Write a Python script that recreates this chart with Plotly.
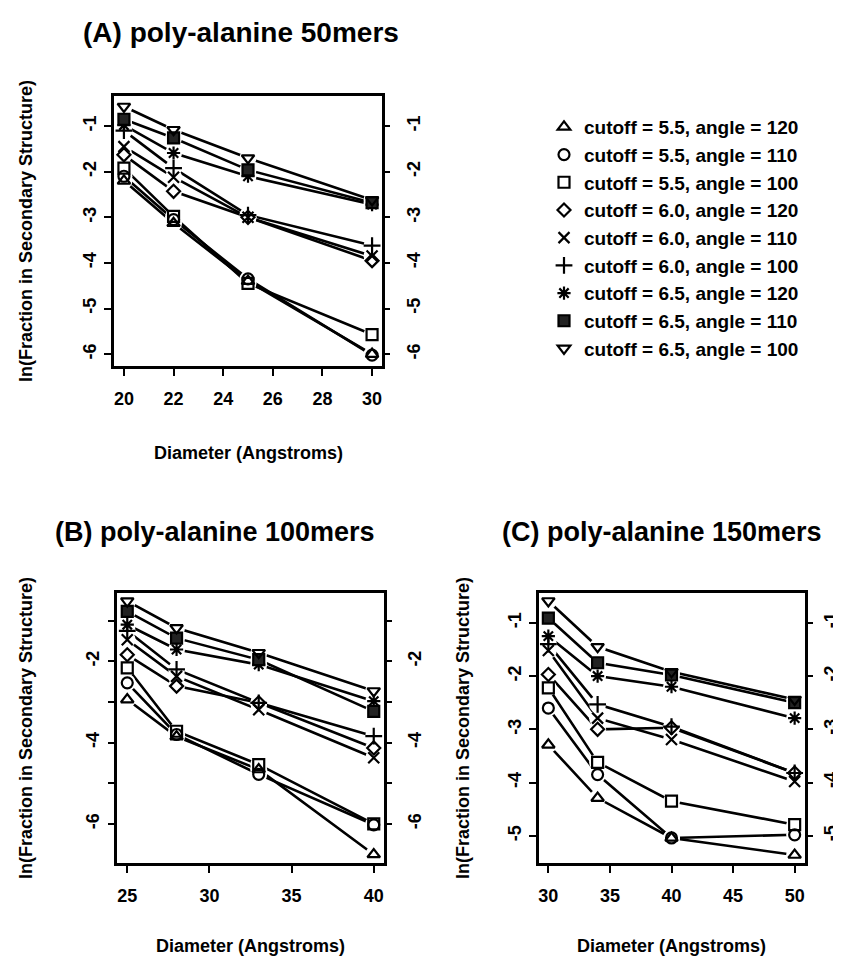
import plotly.graph_objects as go

# ---------------- data ----------------
series_names = [
    "cutoff = 5.5, angle = 120",
    "cutoff = 5.5, angle = 110",
    "cutoff = 5.5, angle = 100",
    "cutoff = 6.0, angle = 120",
    "cutoff = 6.0, angle = 110",
    "cutoff = 6.0, angle = 100",
    "cutoff = 6.5, angle = 120",
    "cutoff = 6.5, angle = 110",
    "cutoff = 6.5, angle = 100",
]

diam_a = [20, 22, 25, 30]
vals_a = [
    [-2.20, -3.13, -4.40, -6.00],
    [-2.10, -3.05, -4.35, -6.02],
    [-1.92, -2.98, -4.45, -5.57],
    [-1.63, -2.43, -3.00, -3.95],
    [-1.45, -2.12, -3.00, -3.85],
    [-1.10, -1.92, -2.95, -3.62],
    [-0.98, -1.59, -2.10, -2.72],
    [-0.85, -1.26, -1.96, -2.68],
    [-0.57, -1.08, -1.70, -2.62],
]

diam_b = [25, 28, 33, 40]
vals_b = [
    [-2.94, -3.85, -4.66, -6.75],
    [-2.53, -3.80, -4.78, -6.02],
    [-2.16, -3.72, -4.54, -6.00],
    [-1.84, -2.61, -3.02, -4.13],
    [-1.47, -2.37, -3.19, -4.37],
    [-1.25, -2.20, -3.02, -3.84],
    [-1.10, -1.71, -2.08, -2.98],
    [-0.77, -1.43, -1.96, -3.23],
    [-0.52, -1.18, -1.79, -2.73],
]

diam_c = [30, 34, 40, 50]
vals_c = [
    [-3.29, -4.29, -5.04, -5.36],
    [-2.60, -3.85, -5.04, -4.98],
    [-2.22, -3.62, -4.35, -4.79],
    [-1.97, -3.00, -2.97, -3.82],
    [-1.52, -2.79, -3.19, -3.98],
    [-1.40, -2.53, -2.95, -3.82],
    [-1.25, -2.00, -2.20, -2.79],
    [-0.91, -1.75, -1.98, -2.50],
    [-0.59, -1.45, -1.92, -2.44],
]

panel_titles = ["(A) poly-alanine 50mers", "(B) poly-alanine 100mers", "(C) poly-alanine 150mers"]
x_title = "Diameter (Angstroms)"
y_title = "ln(Fraction in Secondary Structure)"

xticks_a = [20, 22, 24, 26, 28, 30]
xticks_b = [25, 30, 35, 40]
xticks_c = [30, 35, 40, 45, 50]
yticks_a = [-1, -2, -3, -4, -5, -6]
yticks_b = [-1, -2, -3, -4, -5, -6]
ylabels_b = ["", "-2", "", "-4", "", "-6"]
yticks_c = [-1, -2, -3, -4, -5]

# ---------------- styles ----------------
symbols = ["triangle-up-open", "circle-open", "square-open", "diamond-open",
           "x-thin-open", "cross-thin-open", "asterisk-open", "square", "triangle-down-open"]
sizes = [11, 11, 11, 10, 11, 12, 11, 11, 11]

W, H = 841, 958
FONT = "Liberation Sans, Arial, Helvetica, sans-serif"

def px(x):
    return x / W

def py(y):
    return 1 - y / H

fig = go.Figure()

panels = [
    dict(x=diam_a, vals=vals_a, xa="x", ya="y", yr="y4"),
    dict(x=diam_b, vals=vals_b, xa="x2", ya="y2", yr="y5"),
    dict(x=diam_c, vals=vals_c, xa="x3", ya="y3", yr="y6"),
]

for pi, p in enumerate(panels):
    for si, v in enumerate(p["vals"]):
        fig.add_trace(go.Scatter(x=p["x"], y=v, mode="lines", xaxis=p["xa"], yaxis=p["ya"],
                                 line=dict(color="black", width=2.6), showlegend=False,
                                 hoverinfo="skip"))
    # white halos (gaps around points like R type="b")
    for si, v in enumerate(p["vals"]):
        fig.add_trace(go.Scatter(x=p["x"], y=v, mode="markers", xaxis=p["xa"], yaxis=p["ya"],
                                 marker=dict(symbol="circle", size=17, color="white",
                                             line=dict(width=0)),
                                 showlegend=False, hoverinfo="skip"))
    for si, v in enumerate(p["vals"]):
        filled = symbols[si] == "square"
        fig.add_trace(go.Scatter(
            x=p["x"], y=v, mode="markers", xaxis=p["xa"], yaxis=p["ya"],
            name=series_names[si], legendgroup=series_names[si],
            showlegend=(pi == 0),
            marker=dict(symbol=symbols[si], size=sizes[si],
                        color="#222" if filled else "black",
                        line=dict(color="black", width=2.2)),
        ))
    fig.add_trace(go.Scatter(x=[], y=[], xaxis=p["xa"], yaxis=p["yr"], showlegend=False))

tickfont = dict(family=FONT, size=18, color="black", weight="bold")

def xax(domain, rng, ticks, anchor):
    return dict(domain=domain, range=rng, tickvals=ticks, ticktext=[str(t) for t in ticks],
                anchor=anchor, showline=True, mirror=True, linecolor="black", linewidth=2.5,
                ticks="outside", ticklen=7, tickwidth=2.2, tickcolor="black",
                showgrid=False, zeroline=False, tickfont=tickfont, ticklabelstandoff=8)

def yax(domain, rng, ticks, labels, anchor):
    return dict(domain=domain, range=rng, tickvals=ticks, ticktext=labels,
                anchor=anchor, showline=True, mirror=True, linecolor="black", linewidth=2.5,
                ticks="outside", ticklen=7, tickwidth=2.2, tickcolor="black",
                showgrid=False, zeroline=False, tickfont=tickfont, tickangle=-90,
                ticklabelstandoff=1)

def yax_r(rng, ticks, labels, anchor, overlay, standoff):
    return dict(range=rng, tickvals=ticks, ticktext=labels, anchor=anchor, overlaying=overlay,
                side="right", showline=False, ticks="outside", ticklen=7, tickwidth=2.2,
                tickcolor="black", showgrid=False, zeroline=False, tickfont=tickfont,
                tickangle=-90, ticklabelstandoff=standoff)

dom_a_x = [px(106), px(374)]
dom_a_y = [py(358), py(88)]
dom_b_x = [px(109.4), px(375.6)]
dom_c_x = [px(530.5), px(796.5)]
dom_bc_y = [py(855), py(585)]

rng_a_x = [19.6, 30.4]
rng_a_y = [-6.26, -0.34]
rng_b_x = [24.4, 40.6]
rng_b_y = [-6.96, -0.32]
rng_c_x = [29.2, 50.8]
rng_c_y = [-5.51, -0.44]

fig.update_layout(
    width=W, height=H, margin=dict(l=0, r=0, t=0, b=0),
    paper_bgcolor="white", plot_bgcolor="white",
    font=dict(family=FONT, color="black"),
    xaxis=xax(dom_a_x, rng_a_x, xticks_a, "y"),
    yaxis=yax(dom_a_y, rng_a_y, yticks_a, [str(t) for t in yticks_a], "x"),
    xaxis2=xax(dom_b_x, rng_b_x, xticks_b, "y2"),
    yaxis2=yax(dom_bc_y, rng_b_y, yticks_b, ylabels_b, "x2"),
    xaxis3=xax(dom_c_x, rng_c_x, xticks_c, "y3"),
    yaxis3=yax(dom_bc_y, rng_c_y, yticks_c, [str(t) for t in yticks_c], "x3"),
    yaxis4=yax_r(rng_a_y, yticks_a, [str(t) for t in yticks_a], "x", "y", 8),
    yaxis5=yax_r(rng_b_y, yticks_b, ylabels_b, "x2", "y2", 8),
    yaxis6=yax_r(rng_c_y, yticks_c, [str(t) for t in yticks_c], "x3", "y3", 3),
    legend=dict(x=px(536), y=py(100), xanchor="left", yanchor="top",
                font=dict(family=FONT, size=19, color="black", weight="bold"),
                bgcolor="rgba(0,0,0,0)", borderwidth=0, tracegroupgap=0,
                itemsizing="trace"),
)

lab_font = dict(family=FONT, size=18, color="black", weight="bold")

ann = []
# panel titles
ann.append(dict(text=panel_titles[0], x=px(233), y=py(24), xref="paper", yref="paper",
                xanchor="center", yanchor="middle", showarrow=False,
                font=dict(family=FONT, size=28, color="black", weight="bold")))
ann.append(dict(text=panel_titles[1], x=px(45), y=py(524), xref="paper", yref="paper",
                xanchor="left", yanchor="middle", showarrow=False,
                font=dict(family=FONT, size=27, color="black", weight="bold")))
ann.append(dict(text=panel_titles[2], x=px(654), y=py(524), xref="paper", yref="paper",
                xanchor="center", yanchor="middle", showarrow=False,
                font=dict(family=FONT, size=27, color="black", weight="bold")))
# x titles
for xd, yc in [(dom_a_x, 445), (dom_b_x, 938), (dom_c_x, 938)]:
    ann.append(dict(text=x_title, x=(xd[0] + xd[1]) / 2, y=py(yc), xref="paper", yref="paper",
                    xanchor="center", yanchor="middle", showarrow=False, font=lab_font))
# y titles
for xc, yd in [(18, dom_a_y), (18, dom_bc_y), (455, dom_bc_y)]:
    ann.append(dict(text=y_title, x=px(xc), y=(yd[0] + yd[1]) / 2, xref="paper", yref="paper",
                    xanchor="center", yanchor="middle", showarrow=False, textangle=-90,
                    font=lab_font))
fig.update_layout(annotations=ann)

fig.write_html("out.html")
